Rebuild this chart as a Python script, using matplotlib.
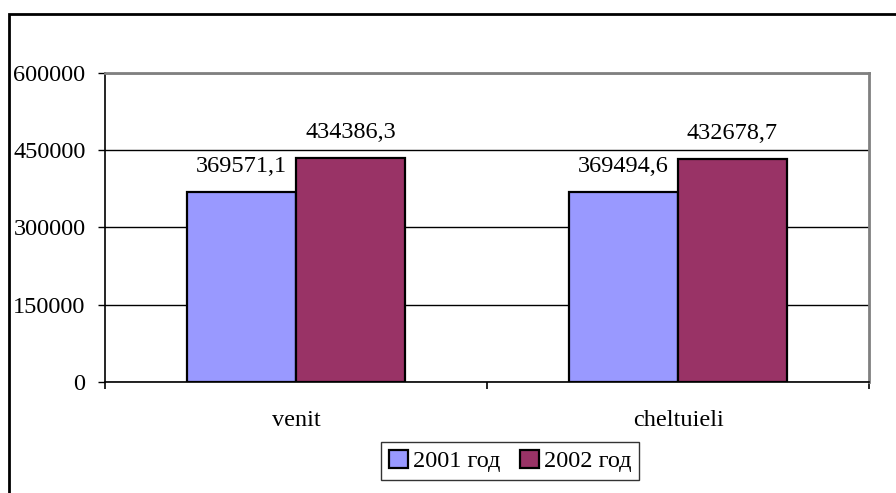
import numpy as np
import matplotlib
matplotlib.use("Agg")
import matplotlib.pyplot as plt
from matplotlib.patches import Rectangle

categories = ["venit", "cheltuieli"]
values_2001 = [369571.1, 369494.6]
values_2002 = [434386.3, 432678.7]
series_names = ["2001 год", "2002 год"]
yticks = [0, 150000, 300000, 450000, 600000]

plt.rcParams["font.family"] = ["Liberation Serif", "DejaVu Serif"]
FS = 17.5

fig = plt.figure(figsize=(8.96, 4.93), dpi=100)
ax = fig.add_axes([105 / 896, 1 - 382 / 493, 764 / 896, 309 / 493])

# outer chart frame (only left and top visible in the crop)
fig.patches.append(Rectangle((8.5 / 896, -0.2), 2.0, 1.2 - 13.5 / 493,
                             transform=fig.transFigure, fill=False,
                             edgecolor="black", linewidth=2, zorder=0))

x = np.arange(len(categories))
w = 109 / 382
b1 = ax.bar(x - w / 2, values_2001, w, color="#9999FF", edgecolor="black",
            linewidth=1.6, label=series_names[0], zorder=3)
b2 = ax.bar(x + w / 2, values_2002, w, color="#993366", edgecolor="black",
            linewidth=1.6, label=series_names[1], zorder=3)

for bars, vals in [(b1, values_2001), (b2, values_2002)]:
    for rect, v in zip(bars, vals):
        ax.annotate(f"{v:.1f}".replace(".", ","),
                    (rect.get_x() + rect.get_width() / 2, rect.get_height()),
                    xytext=(0, 14.5), textcoords="offset points",
                    ha="center", va="baseline", fontsize=FS)

ax.set_xlim(-0.5, 1.5)
ax.set_ylim(0, 600000)
ax.set_yticks(yticks)
ax.set_yticklabels([str(t) for t in yticks])
ax.yaxis.grid(True, color="black", linewidth=1)
ax.set_axisbelow(True)

ax.set_xticks(x)
ax.set_xticklabels(categories)
ax.set_xticks([-0.5, 0.5, 1.5], minor=True)
ax.tick_params(axis="x", which="major", length=0, pad=20, labelsize=FS)
ax.tick_params(axis="x", which="minor", length=5, width=1.2, direction="out")
ax.tick_params(axis="y", length=5, width=1, pad=9, labelsize=FS)

for side in ["top", "right"]:
    ax.spines[side].set_color("#808080")
    ax.spines[side].set_linewidth(2)
for side in ["left", "bottom"]:
    ax.spines[side].set_color("black")
    ax.spines[side].set_linewidth(1.2)

leg = fig.legend(loc="center", bbox_to_anchor=(510 / 896, 1 - 461 / 493),
                 ncol=2, fontsize=FS, frameon=True, fancybox=False,
                 handlelength=0.8, handleheight=0.8, handletextpad=0.2,
                 columnspacing=0.8, borderpad=0.3, borderaxespad=0)
leg.get_frame().set_edgecolor("black")
leg.get_frame().set_linewidth(1)

fig.savefig("out.png", dpi=100)
